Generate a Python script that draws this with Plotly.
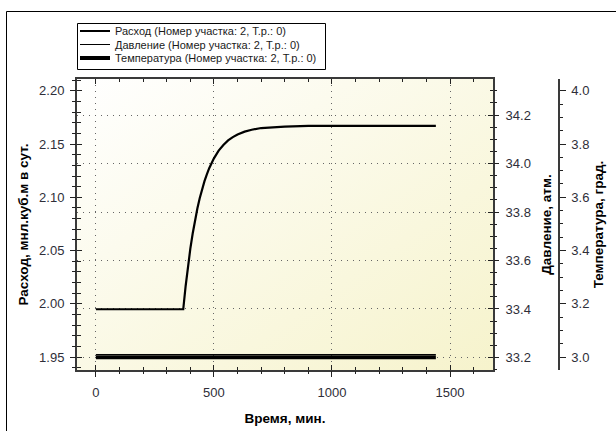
import base64
import plotly.graph_objects as go

# ---------------- data ----------------
time_flow = [0, 365, 370, 380, 390, 400, 410, 420, 430, 440, 450, 460, 470, 480,
             500, 520, 540, 560, 580, 600, 630, 660, 700, 750, 800, 900, 1000, 1440]
flow = [1.995, 1.995, 1.995, 2.0165, 2.0352, 2.0518, 2.066, 2.0788, 2.0898, 2.0994,
        2.1078, 2.1152, 2.1216, 2.1273, 2.1366, 2.1438, 2.1491, 2.1534, 2.1565,
        2.159, 2.1616, 2.1634, 2.165, 2.166, 2.1664, 2.167, 2.167, 2.167]
time_press = [0, 1440]
pressure = [33.212, 33.212]
time_temp = [0, 1440]
temperature = [3.0, 3.0]

names = ["Расход (Номер участка: 2, Т.р.: 0)",
         "Давление (Номер участка: 2, Т.р.: 0)",
         "Температура (Номер участка: 2, Т.р.: 0)"]
x_title = "Время, мин."
y_flow_title = "Расход, мнл.куб.м в сут."
y_press_title = "Давление, атм."
y_temp_title = "Температура, град."

# ---------------- layout helpers ----------------
W, H = 616, 431
L, R_PLOT, R_PAPER, T, B = 77, 493, 559, 79, 370
PW = R_PAPER - L
PH = B - T
def px_x(p):
    return (p - L) / PW
def px_y(p):
    return (B - p) / PH
DOM = px_x(R_PLOT)

FONT = "Liberation Sans, Arial, sans-serif"
TICKF = dict(family=FONT, size=13, color="#2e2e38")
TITLEF = dict(family=FONT, size=13.5, color="#000000", weight="bold")
LINEC = "#3a3a3a"
TICKC = "#222222"

fig = go.Figure()
fig.add_trace(go.Scatter(x=time_flow, y=flow, mode="lines", name=names[0],
                         line=dict(color="black", width=2.2), xaxis="x", yaxis="y",
                         legend="legend"))
fig.add_trace(go.Scatter(x=time_press, y=pressure, mode="lines", name=names[1],
                         line=dict(color="black", width=1), xaxis="x", yaxis="y2",
                         legend="legend2"))
fig.add_trace(go.Scatter(x=time_temp, y=temperature, mode="lines", name=names[2],
                         line=dict(color="black", width=4), xaxis="x", yaxis="y3",
                         legend="legend3"))
# empty helper traces so the outer-tick/label axes are drawn (no marks)
fig.add_trace(go.Scatter(x=[], y=[], xaxis="x2", yaxis="y4", showlegend=False,
                         hoverinfo="skip"))
fig.add_trace(go.Scatter(x=[], y=[], xaxis="x", yaxis="y5", showlegend=False,
                         hoverinfo="skip"))

xr = [-80, 1682]
yr_flow = [1.938, 2.211]
yr_press = [33.148, 34.349]
yr_temp = [2.952, 4.044]

grid_dash = "1px,5px"

layout = dict(
    width=W, height=H,
    margin=dict(l=L, r=W - R_PAPER, t=T, b=H - B, pad=0, autoexpand=False),
    paper_bgcolor="white",
    plot_bgcolor="rgba(0,0,0,0)",
    showlegend=True,
    xaxis=dict(domain=[0, DOM], anchor="y", range=xr, showline=True, linecolor=LINEC,
               linewidth=2, mirror="ticks", ticks="inside", ticklen=5, tickwidth=1.3,
               tickcolor=TICKC, dtick=500, tick0=0, showticklabels=False, zeroline=False,
               showgrid=True, gridcolor="#666666", gridwidth=1, griddash=grid_dash,
               automargin=False,
               minor=dict(ticks="inside", ticklen=3, dtick=100, tick0=0, tickcolor=TICKC,
                          tickwidth=1.2, showgrid=False)),
    xaxis2=dict(overlaying="x", anchor="y", side="bottom", range=xr, ticks="outside",
                ticklen=6, tickwidth=1.3, tickcolor=TICKC, dtick=500, tick0=0,
                showline=False, showgrid=False, zeroline=False, tickfont=TICKF,
                ticklabelstandoff=4, automargin=False,
                title=dict(text=x_title, font=TITLEF, standoff=14),
                minor=dict(ticks="outside", ticklen=3, dtick=100, tick0=0,
                           tickcolor=TICKC, tickwidth=1.2, showgrid=False)),
    yaxis=dict(domain=[0, 1], anchor="x", range=yr_flow, showline=True, linecolor=LINEC,
               linewidth=2, ticks="inside", ticklen=5, tickwidth=1.3, tickcolor=TICKC,
               dtick=0.05, tick0=0, showticklabels=False, showgrid=False, zeroline=False,
               automargin=False,
               minor=dict(ticks="inside", ticklen=4, dtick=0.01, tick0=0, tickcolor=TICKC,
                          tickwidth=1.2, showgrid=False)),
    yaxis4=dict(overlaying="y", anchor="x", side="left", range=yr_flow, ticks="outside",
                ticklen=6, tickwidth=1.3, tickcolor=TICKC, dtick=0.05, tick0=0,
                tickformat=".2f", showline=False, showgrid=False, zeroline=False,
                tickfont=TICKF, ticklabelstandoff=3, automargin=False,
                title=dict(text=y_flow_title, font=TITLEF, standoff=7),
                minor=dict(ticks="outside", ticklen=4, dtick=0.01, tick0=0,
                           tickcolor=TICKC, tickwidth=1.2, showgrid=False)),
    yaxis2=dict(overlaying="y", anchor="x", side="right", range=yr_press, showline=True,
                linecolor=LINEC, linewidth=2, ticks="inside", ticklen=5, tickwidth=1.3,
                tickcolor=TICKC, dtick=0.2, tick0=0, showticklabels=False,
                showgrid=True, gridcolor="#666666", gridwidth=1, griddash=grid_dash,
                zeroline=False, automargin=False,
                minor=dict(ticks="inside", ticklen=3, dtick=0.05, tick0=0,
                           tickcolor=TICKC, tickwidth=1.2, showgrid=False)),
    yaxis5=dict(overlaying="y", anchor="x", side="right", range=yr_press, ticks="outside",
                ticklen=5, tickwidth=1.3, tickcolor=TICKC, dtick=0.2, tick0=0,
                tickformat=".1f", showline=False, showgrid=False, zeroline=False,
                tickfont=TICKF, ticklabelstandoff=4, automargin=False,
                title=dict(text=y_press_title, font=TITLEF, standoff=11),
                minor=dict(ticks="outside", ticklen=3, dtick=0.05, tick0=0,
                           tickcolor=TICKC, tickwidth=1.2, showgrid=False)),
    yaxis3=dict(overlaying="y", anchor="free", position=1, side="right", range=yr_temp,
                showline=True, linecolor=LINEC, linewidth=1.5, ticks="outside",
                ticklen=6, tickwidth=1.3, tickcolor=TICKC, dtick=0.2, tick0=0,
                tickformat=".1f", showgrid=False, zeroline=False, tickfont=TICKF,
                ticklabelstandoff=3, automargin=False,
                title=dict(text=y_temp_title, font=TITLEF, standoff=4),
                minor=dict(ticks="outside", ticklen=3, dtick=0.05, tick0=0,
                           tickcolor=TICKC, tickwidth=1.2, showgrid=False)),
)

leg_font = dict(family=FONT, size=11, color="#1a1a1a")
row_y = [31, 44.5, 58]
for i, key in enumerate(["legend", "legend2", "legend3"]):
    layout[key] = dict(x=px_x(75), y=px_y(row_y[i]), xanchor="left", yanchor="middle",
                       bgcolor="rgba(0,0,0,0)", borderwidth=0, font=leg_font,
                       itemwidth=30, tracegroupgap=0)

fig.update_layout(**layout)

# plot-area gradient background
svg = ('<svg xmlns="http://www.w3.org/2000/svg" width="100" height="100" '
       'preserveAspectRatio="none"><defs><linearGradient id="g" x1="0" y1="0" x2="1" y2="1">'
       '<stop offset="0" stop-color="#ffffff"/><stop offset="1" stop-color="#f6f3cc"/>'
       '</linearGradient></defs><rect width="100" height="100" fill="url(#g)"/></svg>')
src = "data:image/svg+xml;base64," + base64.b64encode(svg.encode()).decode()
fig.add_layout_image(dict(source=src, xref="paper", yref="paper", x=0, y=1,
                          sizex=DOM, sizey=1, xanchor="left", yanchor="top",
                          sizing="stretch", layer="below"))

# outer frame
fig.add_shape(type="rect", xref="paper", yref="paper",
              x0=px_x(6.5), x1=px_x(640), y0=px_y(460), y1=px_y(11.5),
              line=dict(color="black", width=1), fillcolor="rgba(0,0,0,0)", layer="above")
# legend box
fig.add_shape(type="rect", xref="paper", yref="paper",
              x0=px_x(77.5), x1=px_x(325.5), y0=px_y(69.5), y1=px_y(23.5),
              line=dict(color="black", width=1), fillcolor="white", layer="above")

fig.write_html("out.html")
